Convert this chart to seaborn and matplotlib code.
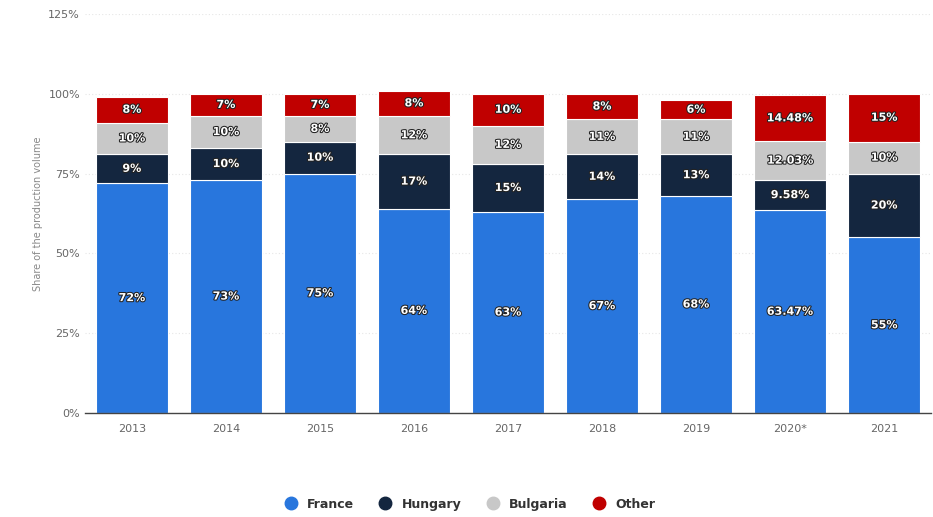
import pandas as pd
import matplotlib
matplotlib.use("Agg")
import matplotlib.pyplot as plt
import matplotlib.patheffects as pe
from matplotlib.lines import Line2D
import seaborn as sns

# values (share of production volume, %)
years = ['2013', '2014', '2015', '2016', '2017', '2018', '2019', '2020*', '2021']
france = [72, 73, 75, 64, 63, 67, 68, 63.47, 55]
hungary = [9, 10, 10, 17, 15, 14, 13, 9.58, 20]
bulgaria = [10, 10, 8, 12, 12, 11, 11, 12.03, 10]
other = [8, 7, 7, 8, 10, 8, 6, 14.48, 15]

series_names = ['France', 'Hungary', 'Bulgaria', 'Other']
series_vals = [france, hungary, bulgaria, other]
colors = ['#2876dd', '#14263f', '#c8c8c8', '#c00000']

sns.set_style('white')
plt.rcParams['font.family'] = ['DejaVu Sans']

fig = plt.figure(figsize=(9.33, 5.17), dpi=100)
ax = fig.add_axes([0.091, 0.201, 0.907, 0.772])

bottom = [0] * len(years)
for name, vals, col in zip(series_names, series_vals, colors):
    df = pd.DataFrame({'year': years, 'value': vals})
    sns.barplot(data=df, x='year', y='value', color=col, width=0.77,
                bottom=bottom, ax=ax, linewidth=0.8, edgecolor='white',
                saturation=1)
    bottom = [b + v for b, v in zip(bottom, vals)]

for cont, vals in zip(ax.containers, series_vals):
    labels = [f'{v:g}%' for v in vals]
    txts = ax.bar_label(cont, labels=labels, label_type='center',
                        fontsize=8, color='white', fontweight='bold')
    for t in txts:
        t.set_path_effects([pe.withStroke(linewidth=1.5, foreground='#222222')])

ax.set_ylim(0, 125)
ax.set_xlim(-0.5, len(years) - 0.5)
ax.set_yticks([0, 25, 50, 75, 100, 125])
ax.set_yticklabels(['0%', '25%', '50%', '75%', '100%', '125%'])
ax.yaxis.grid(True, color='#e6e6e6', linestyle=(0, (1, 2)), linewidth=0.8)
ax.set_axisbelow(True)
ax.tick_params(axis='both', colors='#666666', labelsize=8, length=0)
ax.tick_params(axis='x', pad=8)
ax.set_xlabel('')
ax.set_ylabel('Share of the production volume', fontsize=7, color='#888888')
for s in ['top', 'right', 'left']:
    ax.spines[s].set_visible(False)
ax.spines['bottom'].set_color('#444444')
ax.spines['bottom'].set_linewidth(1)

handles = [Line2D([0], [0], marker='o', linestyle='', markersize=9,
                  markerfacecolor=c, markeredgecolor=c) for c in colors]
fig.legend(handles, series_names, loc='center', bbox_to_anchor=(0.5, 0.025),
           ncol=4, frameon=False, handletextpad=0.3,
           columnspacing=1.5, labelcolor='#333333',
           prop={'weight': 'bold', 'size': 9})

fig.savefig('out.png', dpi=100)
